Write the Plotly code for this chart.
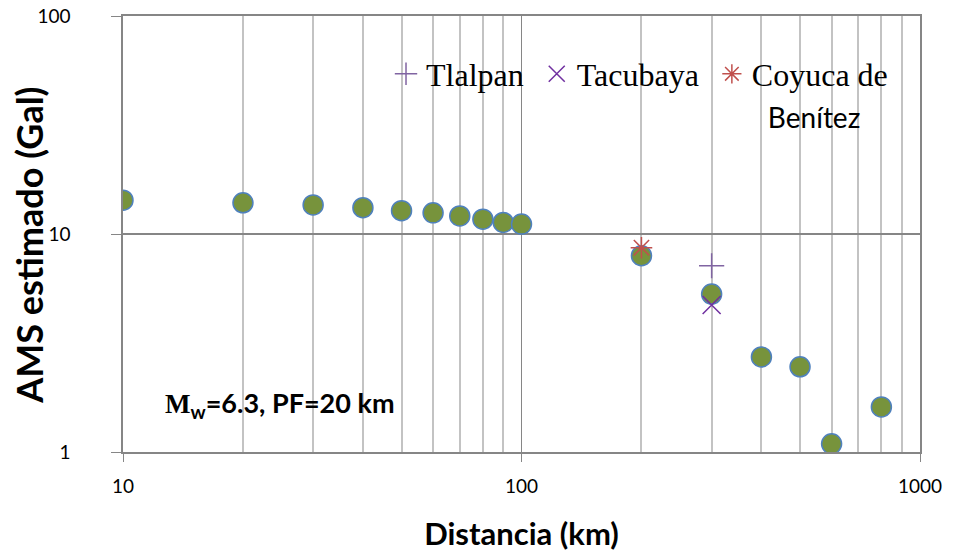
import plotly.graph_objects as go

# datos (log-log)
distancia = [10, 20, 30, 40, 50, 60, 70, 80, 90, 100, 200, 300, 400, 500, 600, 800]
ams = [14.3, 13.9, 13.6, 13.2, 12.8, 12.5, 12.1, 11.7, 11.3, 11.1, 7.95, 5.3, 2.73, 2.46, 1.09, 1.61]

tlalpan_x = [300]
tlalpan_y = [7.15]
tacubaya_x = [300]
tacubaya_y = [4.72]
coyuca_x = [200]
coyuca_y = [8.65]

x_ticks = [10, 100, 1000]
x_minor = [20, 30, 40, 50, 60, 70, 80, 90, 200, 300, 400, 500, 600, 700, 800, 900]
y_ticks = [1, 10, 100]

gris = '#868686'
gris_claro = '#C3C3C3'

fig = go.Figure()

fig.add_trace(go.Scatter(x=distancia, y=ams, mode='markers', showlegend=False,
                         marker=dict(size=20, color='#77933C',
                                     line=dict(color='#4F81BD', width=1.5))))

fig.add_trace(go.Scatter(x=tlalpan_x, y=tlalpan_y, mode='markers', name='Tlalpan\u00a0',
                         marker=dict(symbol='cross-thin-open', size=18, color='#8064A2',
                                     line=dict(color='#8064A2', width=1.5))))
fig.add_trace(go.Scatter(x=tacubaya_x, y=tacubaya_y, mode='markers', name='Tacubaya\u00a0',
                         marker=dict(symbol='x-thin-open', size=18, color='#7030A0',
                                     line=dict(color='#7030A0', width=1.5))))
fig.add_trace(go.Scatter(x=coyuca_x, y=coyuca_y, mode='markers',
                         name='Coyuca de<br>\u00a0\u00a0<span style="font-family:Lato;font-size:28px">Benítez</span>',
                         marker=dict(symbol='asterisk-open', size=18, color='#C0504D',
                                     line=dict(color='#C0504D', width=1.5))))

fig.add_annotation(text='<b><span style="font-family:Liberation Serif">M</span><sub>w</sub>=6.3, PF=20 km</b>',
                   xref='paper', yref='paper', x=0.05, y=0.108,
                   xanchor='left', yanchor='middle', showarrow=False,
                   font=dict(family='Lato', size=27, color='black'))

# titulo del eje y como anotacion para ubicarlo mejor
fig.add_annotation(text='<b>AMS estimado (Gal)</b>', textangle=-90,
                   xref='paper', yref='paper', x=-0.118, y=0.475,
                   xanchor='center', yanchor='middle', showarrow=False,
                   font=dict(family='Lato', size=36, color='black'))

fig.update_layout(width=954, height=557,
                  margin=dict(l=123, r=34, t=16, b=105),
                  plot_bgcolor='white', paper_bgcolor='white',
                  font=dict(family='Lato', size=19, color='black'),
                  legend=dict(orientation='h', x=0.33, y=0.93, xanchor='left', yanchor='top',
                              bgcolor='rgba(0,0,0,0)', valign='top',
                              font=dict(family='Liberation Serif', size=32, color='black')))

fig.update_xaxes(type='log', range=[1, 3], automargin=False,
                 tickvals=x_ticks, ticktext=[str(v) for v in x_ticks],
                 ticks='outside', ticklen=8, tickcolor=gris,
                 ticklabelstandoff=8, ticklabeloverflow='allow',
                 showgrid=True, gridcolor=gris, gridwidth=1,
                 minor=dict(tickvals=x_minor, showgrid=True, gridcolor=gris_claro, gridwidth=1.5, ticks=''),
                 showline=True, linecolor=gris, linewidth=1.5, mirror=True,
                 title=dict(text='<b>Distancia (km)</b>', font=dict(size=31), standoff=28))

fig.update_yaxes(type='log', range=[0, 2], automargin=False,
                 tickvals=y_ticks, ticktext=[str(v) for v in y_ticks],
                 ticks='outside', ticklen=10, tickcolor=gris,
                 ticklabelstandoff=37, ticklabeloverflow='allow',
                 showgrid=True, gridcolor=gris, gridwidth=1.5,
                 showline=True, linecolor=gris, linewidth=1.5, mirror=True)

# quitar el margen por defecto del body para que el grafico quede en (0,0)
fig.write_html('out.html', config={'displayModeBar': False},
               post_script='document.body.style.margin = "0";')
